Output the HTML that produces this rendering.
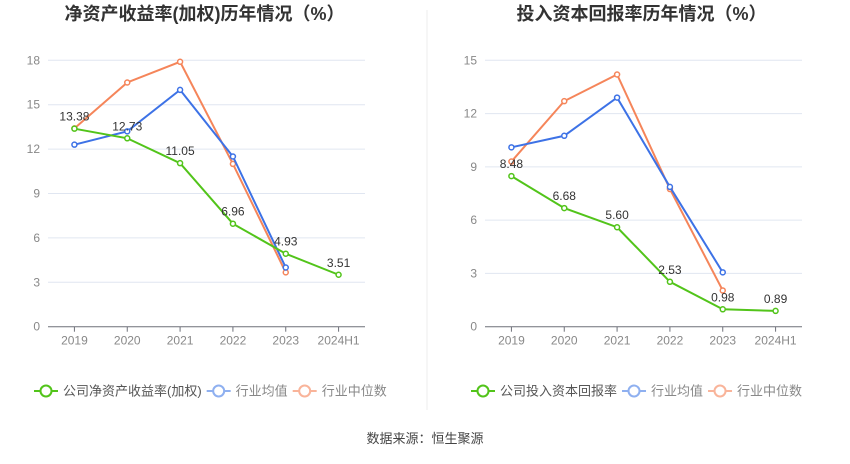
<!DOCTYPE html>
<html><head><meta charset="utf-8"><style>
body{margin:0;background:#fff;font-family:"Liberation Sans","Noto Sans CJK SC",sans-serif;}
svg text{font-family:"Liberation Sans","Noto Sans CJK SC",sans-serif;}
</style></head><body>
<svg id="c" width="850" height="459">
<line x1="427" y1="10" x2="427" y2="410" stroke="#eee"/>
<text x="425" y="443" font-size="13" fill="#444" text-anchor="middle">数据来源：恒生聚源</text>
</svg>
<script>
const categories=["2019","2020","2021","2022","2023","2024H1"];
const roeCompany=[13.38,12.73,11.05,6.96,4.93,3.51];
const roeAvg=[12.3,13.2,16.0,11.5,4.0];
const roeMedian=[13.4,16.5,17.9,11.0,3.67];
const roeTicks=[0,3,6,9,12,15,18];
const roicCompany=[8.48,6.68,5.60,2.53,0.98,0.89];
const roicAvg=[10.1,10.75,12.9,7.87,3.06];
const roicMedian=[9.3,12.7,14.2,7.75,2.04];
const roicTicks=[0,3,6,9,12,15];
const svg=document.getElementById('c');const NS='http://www.w3.org/2000/svg';
function mk(t,a,p){const e=document.createElementNS(NS,t);for(const k in a)e.setAttribute(k,a[k]);(p||svg).appendChild(e);return e;}
function chart(o){
 const x0=o.x0,x1=o.x0+317,yb=326.7,yt=60.3,max=o.ticks[o.ticks.length-1];
 const bw=(x1-x0)/categories.length;
 const X=i=>x0+bw*(i+0.5),Y=v=>yb-(v/max)*(yb-yt);
 const g=mk('g',{});
 const t=mk('text',{x:(x0+x1)/2-2,y:20,'font-size':18,'font-weight':'bold',fill:'#333','text-anchor':'middle'},g);t.textContent=o.title;
 
 o.ticks.forEach(v=>{if(v>0){const l=mk('line',{x1:x0,x2:x1,y1:Y(v),y2:Y(v),stroke:'#e0e6f1'},g);}
  const tx=mk('text',{x:x0-8,y:Y(v)+4,'font-size':12,fill:'#888','text-anchor':'end'},g);tx.textContent=v;
  });
 const ax=mk('line',{x1:x0,x2:x1,y1:yb,y2:yb,stroke:'#6e7079'},g);
 categories.forEach((c,i)=>{const tk=mk('line',{x1:X(i),x2:X(i),y1:yb,y2:yb+5,stroke:'#6e7079'},g);
  const tx=mk('text',{x:X(i),y:yb+18,'font-size':12,fill:'#888','text-anchor':'middle'},g);tx.textContent=c;
  });
 const series=[[o.med,'#f5855a','industry-median-line'],[o.avg,'#3d72e6','industry-average-line'],[o.comp,'#52c41a','company-line']];
 series.forEach(([d,col,nm])=>{
  const p=mk('polyline',{points:d.map((v,i)=>X(i)+','+Y(v)).join(' '),fill:'none',stroke:col,'stroke-width':2},g);
  
  d.forEach((v,i)=>{const c=mk('circle',{cx:X(i),cy:Y(v),r:2.5,fill:'#fff',stroke:col,'stroke-width':1.5},g);
   });
 });
 o.comp.forEach((v,i)=>{const tx=mk('text',{x:X(i),y:Y(v)-8,'font-size':12,fill:'#333','text-anchor':'middle'},g);tx.textContent=v.toFixed(2);
  });
 let lx=o.x0-14;
 [[o.leg,'#52c41a','#555'],['行业均值','#8fb0f0','#888'],['行业中位数','#f9b49a','#888']].forEach(([lab,col,tc])=>{
  const lg=mk('g',{},g);
  mk('line',{x1:lx,x2:lx+24,y1:391,y2:391,stroke:col,'stroke-width':2},lg);
  mk('circle',{cx:lx+12,cy:391,r:5.5,fill:'#fff',stroke:col,'stroke-width':2},lg);
  const tx=mk('text',{x:lx+29,y:395.5,'font-size':13,fill:tc},lg);tx.textContent=lab;
  lx+=29+tx.getComputedTextLength()+5;
 });
}
chart({x0:48,title:'净资产收益率(加权)历年情况（%）',ticks:roeTicks,comp:roeCompany,avg:roeAvg,med:roeMedian,leg:'公司净资产收益率(加权)',name:'roe-chart'});
chart({x0:485,title:'投入资本回报率历年情况（%）',ticks:roicTicks,comp:roicCompany,avg:roicAvg,med:roicMedian,leg:'公司投入资本回报率',name:'roic-chart'});
</script>
</body></html>
